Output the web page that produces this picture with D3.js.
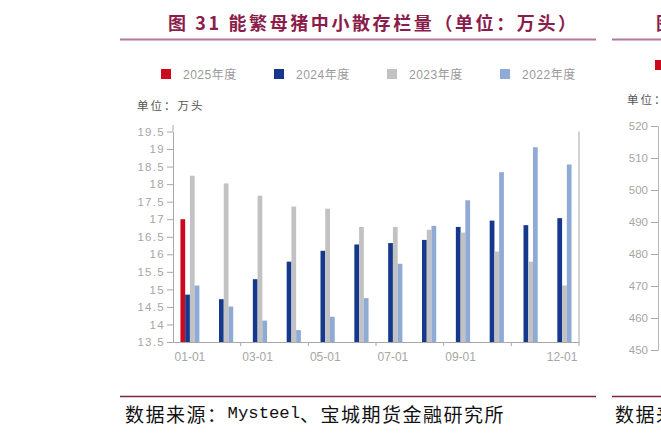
<!DOCTYPE html>
<html>
<head>
<meta charset="utf-8">
<script src="https://cdn.jsdelivr.net/npm/d3@7"></script>
<style>
  html, body { margin: 0; padding: 0; background: #fff; }
  svg { display: block; }
</style>
</head>
<body>
<svg id="chart" width="661" height="433"></svg>
<script>
// ---- data ----
const months = ["01-01","02-01","03-01","04-01","05-01","06-01","07-01","08-01","09-01","10-01","11-01","12-01"];
const labelMonths = ["01-01","03-01","05-01","07-01","09-01","12-01"];
const seriesNames = ["2025年度","2024年度","2023年度","2022年度"];
const seriesColors = ["#cc0a1e","#15388c","#c2c2c2","#90aad6"];
const s2025 = [17.0, null, null, null, null, null, null, null, null, null, null, null];
const s2024 = [14.85, 14.72, 15.29, 15.79, 16.10, 16.28, 16.32, 16.41, 16.78, 16.96, 16.83, 17.03];
const s2023 = [18.24, 18.02, 17.67, 17.36, 17.30, 16.78, 16.78, 16.70, 16.62, 16.08, 15.79, 15.11];
const s2022 = [15.11, 14.51, 14.11, 13.84, 14.22, 14.75, 15.73, 16.81, 17.54, 18.34, 19.05, 18.56];
const yTicks = [13.5,14,14.5,15,15.5,16,16.5,17,17.5,18,18.5,19,19.5];
const titleText = "图 31 能繁母猪中小散存栏量（单位：万头）";
const unitText = "单位：万头";
const sourcePre = "数据来源：";
const sourceLatin = "Mysteel";
const sourcePost = "、宝城期货金融研究所";
// neighbouring (cut-off) chart on the right
const rightTicks = [450,460,470,480,490,500,510,520];

const series = [s2025, s2024, s2023, s2022];

const svg = d3.select("#chart");
const cjk = "'Noto Sans CJK SC', 'Noto Sans', sans-serif";
const num = "'Liberation Sans', 'Noto Sans CJK SC', sans-serif";

// ---- header ----
svg.append("text")
  .attr("x", 168).attr("y", 21.5)
  .attr("dominant-baseline", "central")
  .attr("textLength", 408).attr("lengthAdjust", "spacing")
  .style("font-family", cjk).style("font-weight", "bold").style("font-size", "18px")
  .style("fill", "#8a1d4b")
  .text(titleText);
svg.append("line").attr("x1", 120).attr("x2", 596).attr("y1", 39.5).attr("y2", 39.5)
  .attr("stroke", "#b4789a").attr("stroke-width", 2);
svg.append("line").attr("x1", 612).attr("x2", 661).attr("y1", 39.5).attr("y2", 39.5)
  .attr("stroke", "#b4789a").attr("stroke-width", 2);
svg.append("text")
  .attr("x", 656).attr("y", 21.5).attr("dominant-baseline", "central")
  .style("font-family", cjk).style("font-weight", "bold").style("font-size", "18px")
  .style("fill", "#8a1d4b").text("图 32");

// ---- scales ----
const x0 = d3.scaleBand().domain(months).range([173, 579]).paddingInner(0.44).paddingOuter(0.22);
const x1 = d3.scaleBand().domain(seriesNames).range([0, x0.bandwidth()]);
const y = d3.scaleLinear().domain([13.5, 19.5]).range([342, 131.5]);

// ---- legend ----
const legendX = [161, 274, 387, 500];
seriesNames.forEach((name, i) => {
  svg.append("rect").attr("x", legendX[i]).attr("y", 69).attr("width", 10).attr("height", 10)
    .attr("fill", seriesColors[i]);
  svg.append("text").attr("x", legendX[i] + 22).attr("y", 74.5)
    .attr("dominant-baseline", "central")
    .style("font-family", num).style("font-size", "12px").style("letter-spacing", "0.5px")
    .style("fill", "#9a9a9a").text(name);
});
svg.append("text").attr("x", 137).attr("y", 105).attr("dominant-baseline", "central")
  .style("font-family", cjk).style("font-size", "11.5px").style("letter-spacing", "2px")
  .style("fill", "#555").text(unitText);

// ---- bars ----
series.forEach((vals, si) => {
  svg.append("g").selectAll("rect")
    .data(months.map((m, i) => ({ m, v: vals[i] })).filter(d => d.v != null))
    .join("rect")
    .attr("x", d => x0(d.m) + x1(seriesNames[si]))
    .attr("width", x1.bandwidth())
    .attr("y", d => y(d.v))
    .attr("height", d => y(13.5) - y(d.v))
    .attr("fill", seriesColors[si]);
});

// right frame line
svg.append("line").attr("x1", 579).attr("x2", 579).attr("y1", y(19.5)).attr("y2", y(13.5))
  .attr("stroke", "#c4c4c4").attr("stroke-width", 1.5);

// ---- y axis ----
const yAxis = svg.append("g").attr("transform", "translate(173,0)")
  .call(d3.axisLeft(y).tickValues(yTicks).tickFormat(d => String(d))
    .tickSize(6).tickPadding(2).tickSizeOuter(0));
yAxis.select(".domain").attr("stroke", "#a8a8a8");
yAxis.selectAll(".tick line").attr("stroke", "#a8a8a8");
yAxis.selectAll(".tick text").style("font-family", num).style("font-size", "11.5px")
  .style("letter-spacing", "1.3px").style("fill", "#a6a6a6");
svg.append("line").attr("x1", 173).attr("x2", 173).attr("y1", 125).attr("y2", 131.5)
  .attr("stroke", "#a8a8a8");

// ---- x axis ----
const xAxis = svg.append("g").attr("transform", "translate(0,342)")
  .call(d3.axisBottom(x0).tickValues(labelMonths).tickSize(0).tickPadding(10).tickSizeOuter(0));
xAxis.select(".domain").attr("stroke", "#a8a8a8");
xAxis.selectAll(".tick text").style("font-family", num).style("font-size", "12px")
  .style("fill", "#a6a6a6");
// tick marks at every second month boundary
const boundaryIdx = [2, 4, 6, 8, 10, 12];
svg.append("g").selectAll("line").data(boundaryIdx).join("line")
  .attr("x1", k => x0.range()[0] + x0.step() * k)
  .attr("x2", k => x0.range()[0] + x0.step() * k)
  .attr("y1", 342).attr("y2", 346)
  .attr("stroke", "#a8a8a8");

// ---- partial neighbouring chart ----
const y2 = d3.scaleLinear().domain([450, 520]).range([350, 126]);
svg.append("rect").attr("x", 655).attr("y", 60).attr("width", 10).attr("height", 10).attr("fill", "#cc0a1e");
svg.append("text").attr("x", 627).attr("y", 99).attr("dominant-baseline", "central")
  .style("font-family", cjk).style("font-size", "11.5px").style("letter-spacing", "2px")
  .style("fill", "#555").text("单位：万头");
const yAxis2 = svg.append("g").attr("transform", "translate(658,0)")
  .call(d3.axisLeft(y2).tickValues(rightTicks).tickSize(7).tickPadding(3).tickSizeOuter(0));
yAxis2.select(".domain").attr("stroke", "#b8b8b8");
yAxis2.selectAll(".tick line").attr("stroke", "#a8a8a8");
yAxis2.selectAll(".tick text").style("font-family", num).style("font-size", "11.5px")
  .style("fill", "#a6a6a6");

// ---- source ----
function source(xPos) {
  const t = svg.append("text").attr("x", xPos).attr("y", 413).attr("dominant-baseline", "central")
    .style("font-family", cjk).style("font-size", "19px").style("fill", "#111");
  t.append("tspan").style("letter-spacing", "1.5px").text(sourcePre);
  t.append("tspan").style("font-family", "'Liberation Mono', monospace").style("font-size", "17.3px")
    .text(sourceLatin);
  t.append("tspan").style("letter-spacing", "1.5px").text(sourcePost);
}
svg.append("line").attr("x1", 120).attr("x2", 596).attr("y1", 396.5).attr("y2", 396.5)
  .attr("stroke", "#7a2744").attr("stroke-width", 1.3);
svg.append("line").attr("x1", 612).attr("x2", 661).attr("y1", 396.5).attr("y2", 396.5)
  .attr("stroke", "#7a2744").attr("stroke-width", 1.3);
source(125);
source(615);
</script>
</body>
</html>
